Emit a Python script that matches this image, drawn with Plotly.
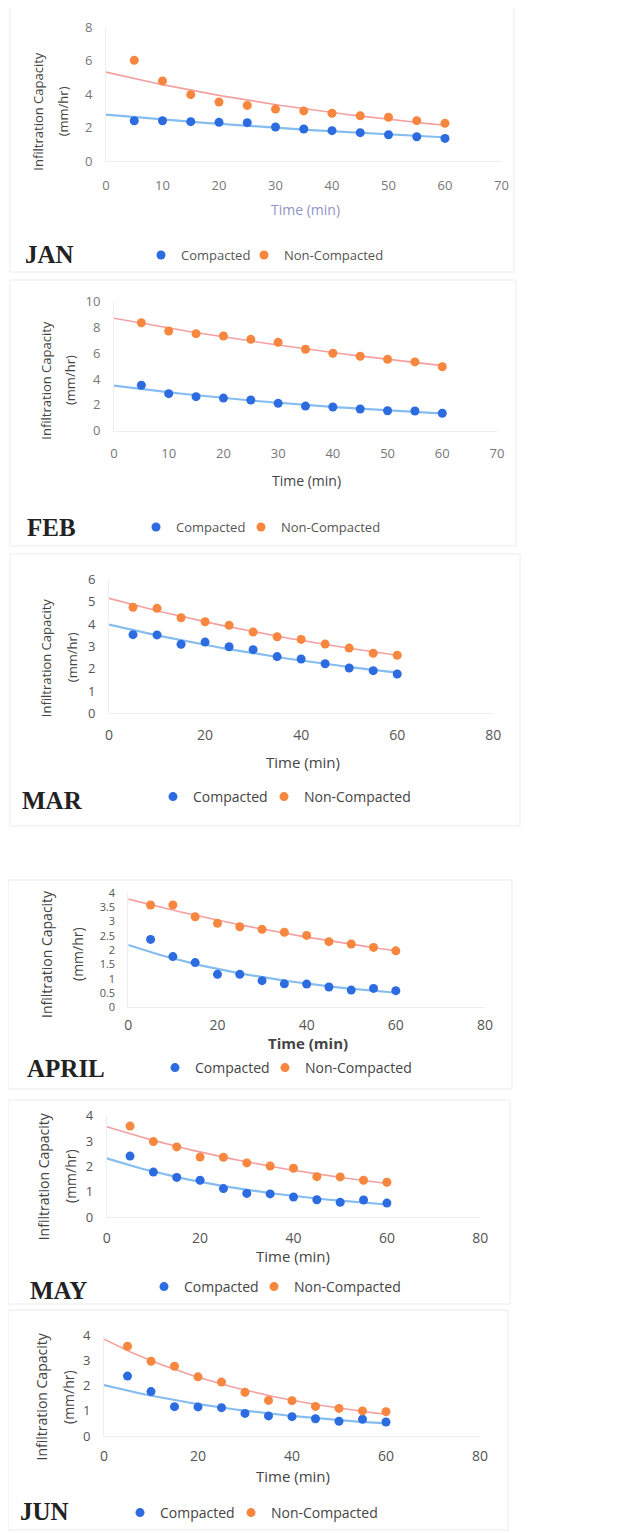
import numpy as np
import plotly.graph_objects as go

# page is photographed with the default 8px body margin, so the figure is
# shrunk by that margin and every pixel position below is shifted accordingly
PAGE_W, PAGE_H = 632, 1533
OFF = 8
W, H = PAGE_W - OFF, PAGE_H - OFF

time_min = [5, 10, 15, 20, 25, 30, 35, 40, 45, 50, 55, 60]
months = ["JAN", "FEB", "MAR", "APRIL", "MAY", "JUN"]

jan_compacted = [2.40, 2.40, 2.35, 2.31, 2.29, 2.03, 1.91, 1.81, 1.69, 1.57, 1.45, 1.35]
jan_noncompacted = [6.01, 4.78, 3.96, 3.52, 3.32, 3.10, 2.99, 2.85, 2.70, 2.61, 2.41, 2.25]
feb_compacted = [3.52, 2.87, 2.64, 2.53, 2.38, 2.12, 1.91, 1.84, 1.68, 1.55, 1.53, 1.35]
feb_noncompacted = [8.37, 7.73, 7.52, 7.34, 7.08, 6.85, 6.31, 6.00, 5.77, 5.53, 5.33, 4.96]
mar_compacted = [3.52, 3.51, 3.09, 3.19, 2.98, 2.85, 2.54, 2.43, 2.22, 2.03, 1.91, 1.76]
mar_noncompacted = [4.75, 4.70, 4.28, 4.10, 3.94, 3.64, 3.43, 3.31, 3.10, 2.92, 2.69, 2.60]
apr_compacted = [2.37, 1.77, 1.56, 1.15, 1.15, 0.93, 0.82, 0.81, 0.71, 0.60, 0.66, 0.58]
apr_noncompacted = [3.57, 3.57, 3.16, 2.93, 2.81, 2.72, 2.62, 2.51, 2.29, 2.21, 2.09, 1.97]
may_compacted = [2.41, 1.78, 1.57, 1.46, 1.13, 0.94, 0.92, 0.80, 0.69, 0.59, 0.68, 0.56]
may_noncompacted = [3.59, 2.98, 2.77, 2.37, 2.36, 2.14, 2.02, 1.93, 1.60, 1.59, 1.46, 1.38]
jun_compacted = [2.39, 1.77, 1.17, 1.16, 1.13, 0.90, 0.80, 0.77, 0.69, 0.59, 0.67, 0.56]
jun_noncompacted = [3.58, 2.98, 2.78, 2.36, 2.15, 1.74, 1.42, 1.41, 1.18, 1.10, 1.00, 0.97]

compacted = [jan_compacted, feb_compacted, mar_compacted, apr_compacted, may_compacted, jun_compacted]
noncompacted = [jan_noncompacted, feb_noncompacted, mar_noncompacted, apr_noncompacted,
                may_noncompacted, jun_noncompacted]

x_max = [70, 70, 80, 80, 80, 80]
x_dtick = [10, 10, 20, 20, 20, 20]
y_max = [8, 10, 6, 4, 4, 4]
y_dtick = [2, 2, 1, 0.5, 1, 1]

# --- layout geometry (page pixels) ---
px_x = [(106, 501.5), (114, 497), (109, 493.3), (128.3, 485), (106.7, 480.3), (104, 480)]
px_y = [(27, 161), (301.7, 430.7), (579.3, 713.3), (892.7, 1007.3), (1115.7, 1217.3), (1335.7, 1436)]
xtick_standoff = [12, 11, 9, 5, 8, 7]
ytick_size = [13, 13, 13, 11, 13, 13]
ytitle_pos = [(37.7, 63.3, 111), (45.7, 70, 380), (45.7, 71.7, 657.5), (46, 77, 954),
              (43.3, 70, 1176), (41.7, 68.3, 1396.7)]
xtitle_pos = [(305, 209), (306, 480.7), (303, 761.7), (308, 1043.3), (293, 1255.7), (292.7, 1475.7)]
month_pos = [(23, 255), (25, 527), (20, 800), (25, 1068), (28, 1290), (18, 1511)]
# text start of the two legend entries and the row centre
legend_pos = [(177, 280, 255), (172, 277, 527), (189, 300, 797), (191, 301, 1068),
              (180, 290, 1287), (156, 267, 1513)]
box_pos = [(10, 4, 514, 272), (10, 280, 516, 546), (10, 554, 520, 826), (8, 880, 512, 1089),
           (8, 1100, 510, 1304), (8, 1310, 508, 1530)]


def fx(p):
    return (p - OFF) / W


def fy(p):
    return 1 - (p - OFF) / H


BLUE = "#2c6ce0"
ORANGE = "#f7863f"
BLUE_T = "#86bdf0"
ORANGE_T = "#f4a0a0"

fig = go.Figure()
layout = dict(width=W, height=H, margin=dict(l=0, r=0, t=0, b=0, autoexpand=False),
              paper_bgcolor="#ffffff", plot_bgcolor="#ffffff",
              font=dict(family="Open Sans", size=13, color="#555"))
annotations = []
shapes = []

for i in range(6):
    n = i + 1
    xa = "x" if n == 1 else f"x{n}"
    ya = "y" if n == 1 else f"y{n}"
    lg_a = "legend" if n == 1 else f"legend{2 * i + 1}"
    lg_b = f"legend{2 * i + 2}"
    dark = i >= 2
    xt = np.array(time_min, dtype=float)
    tx = np.linspace(0, 60, 61)
    for vals, tcol, wid in [(compacted[i], BLUE_T, 2.2), (noncompacted[i], ORANGE_T, 1.6)]:
        b, a = np.polyfit(xt, np.log(np.array(vals)), 1)
        fig.add_trace(go.Scatter(x=tx, y=np.exp(a + b * tx), mode="lines",
                                 line=dict(color=tcol, width=wid),
                                 xaxis=xa, yaxis=ya, showlegend=False, hoverinfo="skip"))
    for vals, mcol, name, lg in [(compacted[i], BLUE, "Compacted", lg_a),
                                 (noncompacted[i], ORANGE, "Non-Compacted", lg_b)]:
        fig.add_trace(go.Scatter(x=time_min, y=vals, mode="markers", name=name,
                                 marker=dict(color=mcol, size=9),
                                 xaxis=xa, yaxis=ya, legend=lg))

    axis_key_x = "xaxis" if n == 1 else f"xaxis{n}"
    axis_key_y = "yaxis" if n == 1 else f"yaxis{n}"
    tfont = dict(size=14 if dark else 13, color="#555" if dark else "#777")
    layout[axis_key_x] = dict(domain=[fx(px_x[i][0]), fx(px_x[i][1])], range=[0, x_max[i]],
                              dtick=x_dtick[i], tick0=0, anchor=ya, showgrid=False,
                              zeroline=False, showline=True, linecolor="#eeeeee",
                              ticks="", ticklabelstandoff=xtick_standoff[i], automargin=False,
                              tickfont=tfont)
    layout[axis_key_y] = dict(domain=[fy(px_y[i][1]), fy(px_y[i][0])], range=[0, y_max[i]],
                              dtick=y_dtick[i], tick0=0, anchor=xa, showgrid=False,
                              zeroline=False, showline=True, linecolor="#eeeeee",
                              ticks="", ticklabelstandoff=10, automargin=False,
                              tickfont=dict(size=ytick_size[i], color=tfont["color"]))
    t1, t2, ly = legend_pos[i]
    for lg, tstart in [(lg_a, t1), (lg_b, t2)]:
        layout[lg] = dict(orientation="h", x=fx(tstart - 36), y=fy(ly),
                          xanchor="left", yanchor="middle", bgcolor="rgba(0,0,0,0)",
                          font=dict(size=14 if dark else 13, color="#444" if dark else "#555"),
                          itemwidth=30)

    l1x, l2x, ty = ytitle_pos[i]
    for txt, lx in [("Infiltration Capacity", l1x), ("(mm/hr)", l2x)]:
        annotations.append(dict(text=txt, x=fx(lx), y=fy(ty), xref="paper",
                                yref="paper", textangle=-90, showarrow=False,
                                xanchor="center", yanchor="middle",
                                font=dict(size=13 if i < 3 else 14, color="#444")))
    xtitle = "<b>Time (min)</b>" if i == 3 else "Time (min)"
    annotations.append(dict(text=xtitle, x=fx(xtitle_pos[i][0]), y=fy(xtitle_pos[i][1]),
                            xref="paper", yref="paper", showarrow=False,
                            xanchor="center", yanchor="middle",
                            font=dict(size=14 if i < 2 else 15,
                                      color="#8f95c8" if i == 0 else "#444")))
    annotations.append(dict(text=f"<b>{months[i]}</b>", x=fx(month_pos[i][0]),
                            y=fy(month_pos[i][1]), xref="paper", yref="paper",
                            xanchor="left", yanchor="middle", showarrow=False,
                            font=dict(family="Liberation Serif", size=25, color="#222")))
    bx0, by0, bx1, by1 = box_pos[i]
    shapes.append(dict(type="rect", xref="paper", yref="paper", x0=fx(bx0), x1=fx(bx1),
                       y0=fy(min(by1, PAGE_H - 1)), y1=fy(by0),
                       line=dict(color="#ececec", width=1), layer="below"))

layout["annotations"] = annotations
layout["shapes"] = shapes
fig.update_layout(**layout)
fig.write_html("out.html")
